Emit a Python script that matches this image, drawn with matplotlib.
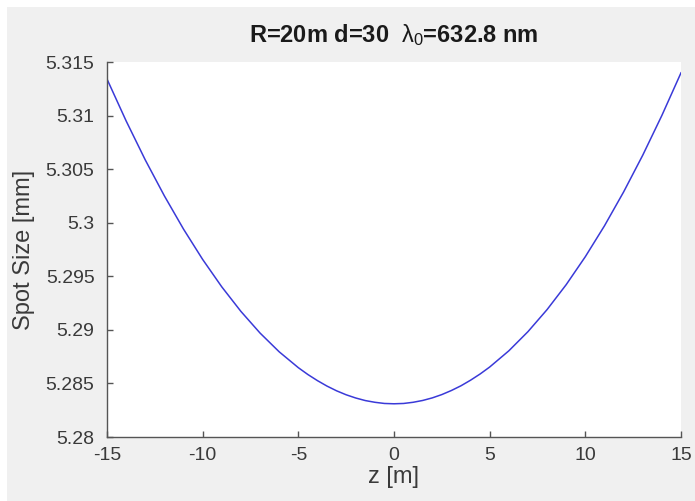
import matplotlib
matplotlib.use("Agg")
import matplotlib.pyplot as plt
from matplotlib.patches import Rectangle

plt.rcParams['font.family'] = ['Liberation Sans', 'DejaVu Sans']
plt.rcParams['mathtext.fontset'] = 'custom'
plt.rcParams['mathtext.rm'] = 'Liberation Sans'
plt.rcParams['mathtext.it'] = 'Liberation Sans'

# z positions [m] and spot size readings [mm]
z = [-15, -14, -13, -12, -11, -10, -9, -8, -7, -6, -5, -4.5, -4, -3.5, -3,
     -2.5, -2, -1.5, -1, -0.5, 0, 0.5, 1, 1.5, 2, 2.5, 3, 3.5, 4, 4.5, 5,
     6, 7, 8, 9, 10, 11, 12, 13, 14, 15]
spot = [5.31341, 5.30950, 5.30586, 5.30250, 5.29940, 5.29657, 5.29401,
        5.29172, 5.28970, 5.28795, 5.28647, 5.28583, 5.28526, 5.28475,
        5.28431, 5.28394, 5.28364, 5.28340, 5.28324, 5.28313, 5.28310,
        5.28313, 5.28324, 5.28341, 5.28365, 5.28396, 5.28434, 5.28478,
        5.28530, 5.28588, 5.28653, 5.28804, 5.28983, 5.29189, 5.29422,
        5.29683, 5.29971, 5.30287, 5.30630, 5.31001, 5.31399]
xticks = [-15, -10, -5, 0, 5, 10, 15]
yticks = [5.28, 5.285, 5.29, 5.295, 5.3, 5.305, 5.31, 5.315]
yticklabels = ['5.28', '5.285', '5.29', '5.295', '5.3', '5.305', '5.31', '5.315']

W, H = 695, 501
fig = plt.figure(figsize=(W / 100, H / 100), dpi=100, facecolor='white')
fig.patches.append(Rectangle((7 / W, 0), 1, 1 - 7 / H, transform=fig.transFigure,
                             facecolor='#f0f0f0', edgecolor='none', zorder=-10))
ax = fig.add_axes([107 / W, 1 - 437 / H, (681 - 107) / W, (437 - 62) / H])
ax.set_facecolor('white')
ax.plot(z, spot, color='#3a3ad8', lw=1.1)

ax.set_xlim(-15, 15)
ax.set_ylim(5.28, 5.315)
ax.set_xticks(xticks)
ax.set_xticklabels([str(t) for t in xticks])
ax.set_yticks(yticks)
ax.set_yticklabels(yticklabels)

for s in ['top', 'right']:
    ax.spines[s].set_visible(False)
for s in ['left', 'bottom']:
    ax.spines[s].set_color('#555555')
    ax.spines[s].set_linewidth(1.0)
ax.tick_params(direction='in', length=4, width=1.0, color='#555555',
               labelcolor='#3a3a3a', labelsize=14)
ax.tick_params(axis='y', pad=9)
ax.tick_params(axis='x', pad=7)

ax.set_xlabel('z [m]', fontsize=17, color='#3a3a3a', labelpad=2)
ax.set_ylabel('Spot Size [mm]', fontsize=17, color='#3a3a3a', labelpad=8)
ax.set_title(r'R=20m d=30  $\lambda_0$=632.8 nm', fontsize=17, fontweight='bold',
             color='#1a1a1a', pad=14)

fig.savefig('out.png', dpi=100, facecolor=fig.get_facecolor())
